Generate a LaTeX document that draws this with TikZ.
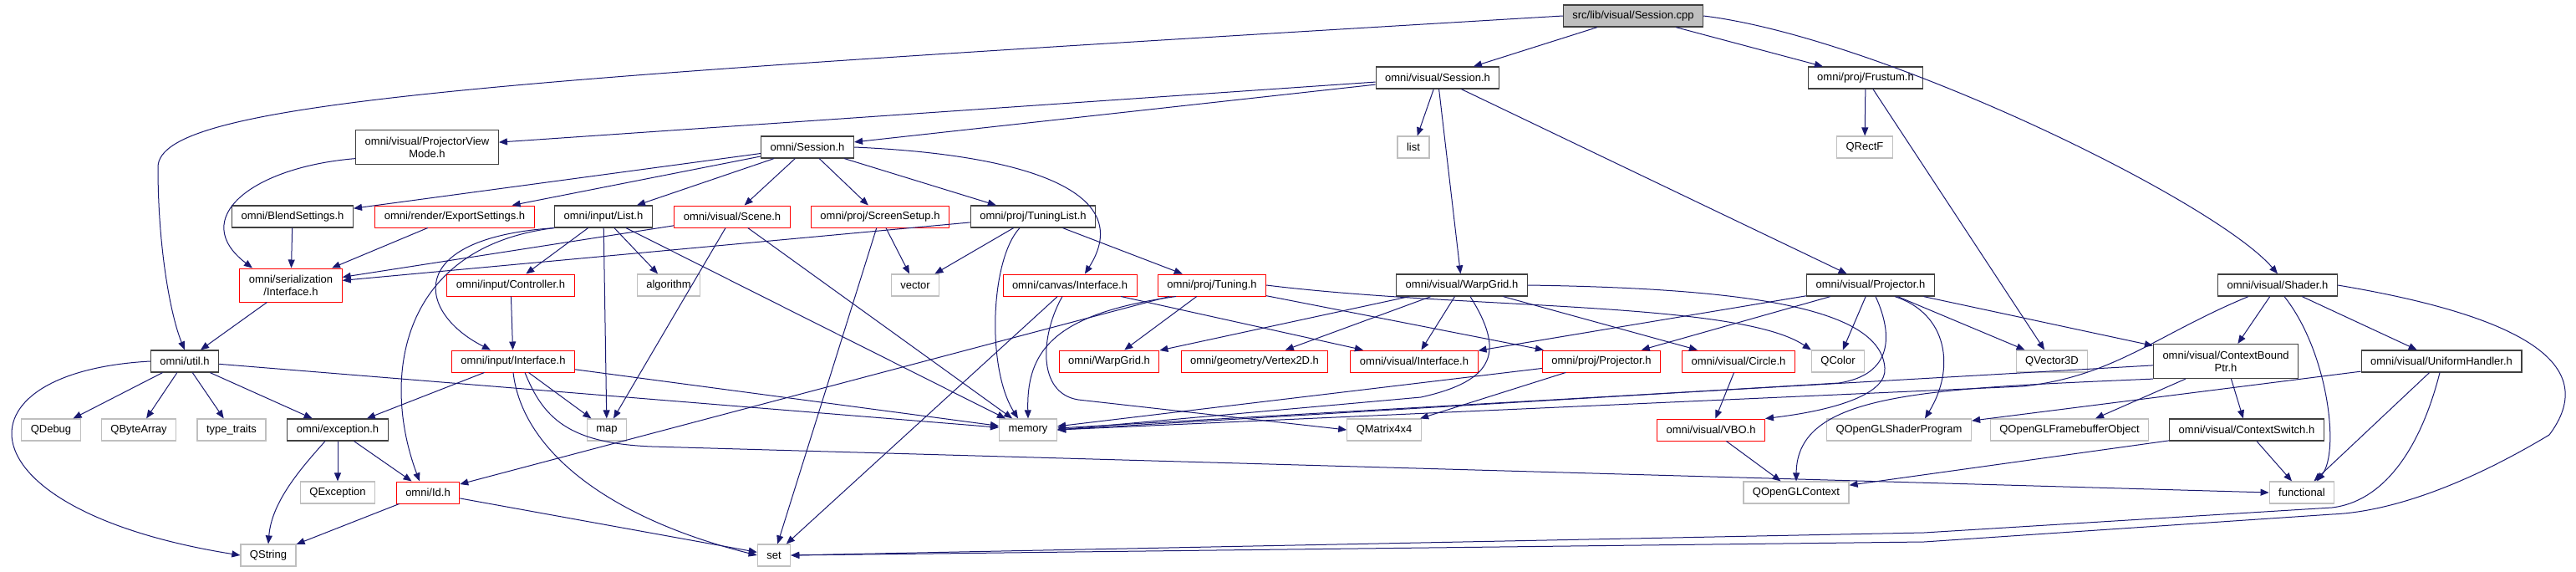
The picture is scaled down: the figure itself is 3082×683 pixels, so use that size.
\documentclass[tikz,border=0pt]{standalone}
\usepackage{fontspec}
\setmainfont{Liberation Sans}
\usepackage{xcolor}
\usepackage{tikz}
\usetikzlibrary{arrows.meta}
\definecolor{depblue}{HTML}{191970}
\definecolor{boxline}{HTML}{404040}
\definecolor{sysline}{HTML}{BFBFBF}

\begin{document}
\begin{tikzpicture}[x=1pt,y=-1pt,font=\fontsize{13}{15}\selectfont,
  hdrbox/.style={draw=boxline,line width=1.2pt,fill=white,minimum height=26pt,inner xsep=11pt,inner ysep=2pt,align=center},
  redbox/.style={hdrbox,draw=red,line width=1pt},
  sysbox/.style={hdrbox,draw=sysline},
  rootbox/.style={hdrbox,fill=sysline},
  dep/.style={depblue,line width=1pt,-{Triangle[length=10pt,width=8pt]}}]
  \useasboundingbox (0,0) rectangle (3082,683);
  \node[rootbox] (cpp) at (1954,19) {src/lib/visual/Session.cpp};
  \node[hdrbox] (vsess) at (1720,93) {omni/visual/Session.h};
  \node[hdrbox] (frustum) at (2232,93) {omni/proj/Frustum.h};
  \node[sysbox] (list) at (1691,176) {list};
  \node[sysbox] (qrectf) at (2231,176) {QRectF};
  \node[hdrbox,minimum height=41pt] (pvm) at (511,176) {omni/visual/ProjectorView\\Mode.h};
  \node[hdrbox] (sess) at (966,176) {omni/Session.h};
  \node[hdrbox] (blend) at (350,259) {omni/BlendSettings.h};
  \node[redbox] (export) at (544,259) {omni/render/ExportSettings.h};
  \node[hdrbox] (ilist) at (722,259) {omni/input/List.h};
  \node[redbox] (scene) at (876,259) {omni/visual/Scene.h};
  \node[redbox] (screen) at (1053,259) {omni/proj/ScreenSetup.h};
  \node[hdrbox] (tlist) at (1236,259) {omni/proj/TuningList.h};
  \node[redbox,minimum height=40pt] (serial) at (348,341) {omni/serialization\\/Interface.h};
  \node[redbox] (ctrl) at (611,341) {omni/input/Controller.h};
  \node[sysbox] (algo) at (800,341) {algorithm};
  \node[sysbox] (vector) at (1095,341) {vector};
  \node[redbox] (canvas) at (1280,341) {omni/canvas/Interface.h};
  \node[redbox] (tuning) at (1450,341) {omni/proj/Tuning.h};
  \node[hdrbox] (vwarp) at (1749,341) {omni/visual/WarpGrid.h};
  \node[hdrbox] (vproj) at (2238,341) {omni/visual/Projector.h};
  \node[hdrbox] (shader) at (2725,341) {omni/visual/Shader.h};
  \node[hdrbox] (util) at (221,432) {omni/util.h};
  \node[redbox] (iiface) at (614,432) {omni/input/Interface.h};
  \node[redbox] (owarp) at (1327,432) {omni/WarpGrid.h};
  \node[redbox] (vertex) at (1501,432) {omni/geometry/Vertex2D.h};
  \node[redbox] (viface) at (1692,432) {omni/visual/Interface.h};
  \node[redbox] (pproj) at (1916,432) {omni/proj/Projector.h};
  \node[redbox] (circle) at (2080,432) {omni/visual/Circle.h};
  \node[sysbox] (qcolor) at (2199,432) {QColor};
  \node[sysbox] (qvec) at (2455,432) {QVector3D};
  \node[hdrbox,minimum height=41pt] (cbp) at (2663,432) {omni/visual/ContextBound\\Ptr.h};
  \node[hdrbox] (uniform) at (2921,432) {omni/visual/UniformHandler.h};
  \node[sysbox] (qdebug) at (61,514) {QDebug};
  \node[sysbox] (qbyte) at (166,514) {QByteArray};
  \node[sysbox] (ttraits) at (277,514) {type\_traits};
  \node[hdrbox] (except) at (404,514) {omni/exception.h};
  \node[sysbox] (map) at (726,514) {map};
  \node[sysbox] (memory) at (1230,514) {memory};
  \node[sysbox] (qmat) at (1656,514) {QMatrix4x4};
  \node[redbox] (vbo) at (2047,514) {omni/visual/VBO.h};
  \node[sysbox] (qshader) at (2272,514) {QOpenGLShaderProgram};
  \node[sysbox] (qfbo) at (2476,514) {QOpenGLFramebufferObject};
  \node[hdrbox] (cswitch) at (2688,514) {omni/visual/ContextSwitch.h};
  \node[sysbox] (qexcept) at (404,589) {QException};
  \node[redbox] (id) at (512,589) {omni/Id.h};
  \node[sysbox] (qctx) at (2149,589) {QOpenGLContext};
  \node[sysbox] (functional) at (2754,589) {functional};
  \node[sysbox] (qstring) at (321,664) {QString};
  \node[sysbox] (set) at (926,664) {set};
  \draw[dep] (cpp) -- (vsess);
  \draw[dep] (cpp) -- (frustum);
  \draw[dep] (cpp.east) .. controls (2250,45) and (2650,240) .. (shader.north);
  \draw[dep] (cpp.west) .. controls (600,95) and (189,120) .. (189,200) .. controls (189,300) and (205,380) .. (util.north);
  \draw[dep] (vsess) -- (list);
  \draw[dep] (vsess) -- (vwarp);
  \draw[dep] (vsess) -- (vproj);
  \draw[dep] (vsess) -- (pvm);
  \draw[dep] (vsess) -- (sess);
  \draw[dep] (frustum) -- (qrectf);
  \draw[dep] (frustum) -- (qvec);
  \draw[dep] (pvm.189) .. controls (300,200) and (225,262) .. (serial.156);
  \draw[dep] (sess) -- (blend);
  \draw[dep] (sess) -- (export);
  \draw[dep] (sess) -- (ilist);
  \draw[dep] (sess) -- (scene);
  \draw[dep] (sess) -- (screen);
  \draw[dep] (sess) -- (tlist);
  \draw[dep] (sess.east) .. controls (1230,185) and (1360,230) .. (canvas.37);
  \draw[dep] (blend) -- (serial);
  \draw[dep] (export) -- (serial);
  \draw[dep] (scene) -- (serial);
  \draw[dep] (tlist) -- (serial);
  \draw[dep] (ilist.south west) .. controls (480,295) and (455,450) .. ([xshift=-10pt]id.north);
  \draw[dep] (ilist.south west) .. controls (480,285) and (500,375) .. ([xshift=-27pt]iiface.north);
  \draw[dep] (ilist) -- (ctrl);
  \draw[dep] (ilist) -- (map);
  \draw[dep] (ilist) -- (algo);
  \draw[dep] (ilist) -- (memory);
  \draw[dep] (scene) -- (map);
  \draw[dep] (scene) -- (memory);
  \draw[dep] (screen) -- (vector);
  \draw[dep] (screen) -- (set);
  \draw[dep] (tlist) -- (vector);
  \draw[dep] ([xshift=-16pt]tlist.south) .. controls (1185,310) and (1180,440) .. ([xshift=-12pt]memory.north);
  \draw[dep] (tlist) -- (tuning);
  \draw[dep] (serial) -- (util);
  \draw[dep] (ctrl) -- (iiface);
  \draw[dep] (canvas) -- (set);
  \draw[dep] ([xshift=-9pt]canvas.south) .. controls (1245,400) and (1240,470) .. (1290,478) -- (qmat.west);
  \draw[dep] (canvas) -- (viface);
  \draw[dep] (tuning) -- (id);
  \draw[dep] ([xshift=-43pt]tuning.south) .. controls (1260,375) and (1228,420) .. (memory.north);
  \draw[dep] (tuning) -- (owarp);
  \draw[dep] (tuning.east) .. controls (1750,370) and (2080,360) .. (qcolor.north west);
  \draw[dep] (tuning) -- (pproj);
  \draw[dep] (vwarp) -- (owarp);
  \draw[dep] (vwarp) -- (vertex);
  \draw[dep] (vwarp) -- (viface);
  \draw[dep] ([xshift=10pt]vwarp.south) .. controls (1800,420) and (1790,455) .. (1700,475) -- (memory.east);
  \draw[dep] (vwarp) -- (circle);
  \draw[dep] (vwarp.east) .. controls (2100,345) and (2250,370) .. (2255,440) .. controls (2258,470) and (2200,490) .. (vbo.north east);
  \draw[dep] (vproj) -- (viface);
  \draw[dep] (vproj) -- (pproj);
  \draw[dep] (vproj) -- (qcolor);
  \draw[dep] ([xshift=6pt]vproj.south) .. controls (2265,400) and (2265,448) .. (2200,458) -- (memory.east);
  \draw[dep] ([xshift=29pt]vproj.south) .. controls (2330,375) and (2340,440) .. ([xshift=31pt]qshader.north);
  \draw[dep] (vproj) -- (qvec);
  \draw[dep] (vproj) -- (cbp);
  \draw[dep] (shader) -- (cbp);
  \draw[dep] ([xshift=8pt]shader.south) .. controls (2785,420) and (2800,540) .. ([xshift=18pt]functional.north);
  \draw[dep] (shader) -- (uniform);
  \draw[dep] (shader.east) .. controls (3030,380) and (3110,440) .. (3050,520) .. controls (2950,580) and (2860,612) .. (2790,615) -- (2302,648) -- (set.east);
  \draw[dep] ([xshift=-35pt]shader.south) .. controls (2580,400) and (2530,450) .. (2420,462) -- (memory.east);
  \draw[dep] (cbp) -- (memory);
  \draw[dep] (cbp.south west) .. controls (2300,465) and (2150,470) .. (qctx.north);
  \draw[dep] (cbp) -- (qfbo);
  \draw[dep] (cbp) -- (cswitch);
  \draw[dep] (uniform) -- (qshader);
  \draw[dep] (uniform) -- (functional);
  \draw[dep] ([xshift=-2pt]uniform.south) .. controls (2895,540) and (2850,600) .. (2790,607) -- (2302,637) -- (set.east);
  \draw[dep] (cswitch) -- (qctx);
  \draw[dep] (cswitch) -- (functional);
  \draw[dep] (circle) -- (vbo);
  \draw[dep] (vbo) -- (qctx);
  \draw[dep] (pproj) -- (memory);
  \draw[dep] (pproj) -- (qmat);
  \draw[dep] (util) -- (qdebug);
  \draw[dep] (util) -- (qbyte);
  \draw[dep] (util) -- (ttraits);
  \draw[dep] (util) -- (except);
  \draw[dep] (util.west) .. controls (-60,445) and (-50,610) .. (qstring.west);
  \draw[dep] (util) -- (memory);
  \draw[dep] (except) -- (qexcept);
  \draw[dep] (except) -- (id);
  \draw[dep] ([xshift=-15pt]except.south) .. controls (360,560) and (325,600) .. (qstring.north);
  \draw[dep] (iiface) -- (except);
  \draw[dep] (iiface) -- (map);
  \draw[dep] (iiface) -- (memory);
  \draw[dep] ([xshift=14pt]iiface.south) .. controls (650,500) and (680,530) .. (780,534) -- (functional.west);
  \draw[dep] (iiface.south) .. controls (625,540) and (730,620) .. (set.west);
  \draw[dep] (id) -- (qstring);
  \draw[dep] (id) -- (set);
\end{tikzpicture}
\end{document}
